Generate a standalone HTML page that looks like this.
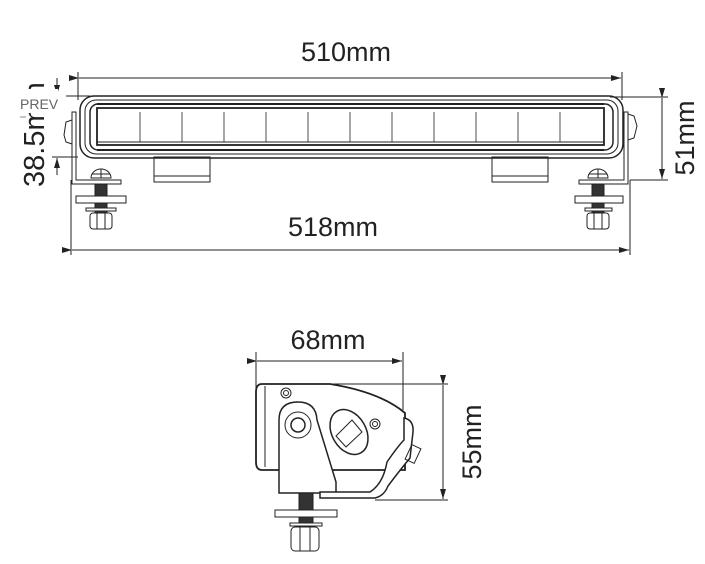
<!DOCTYPE html>
<html><head><style>html,body{margin:0;padding:0;background:#fff;}svg{display:block;}</style></head>
<body>
<svg width="705" height="564" viewBox="0 0 705 564" xmlns="http://www.w3.org/2000/svg" font-family="Liberation Sans, sans-serif">
<defs>
<marker id="a" markerWidth="10" markerHeight="6" refX="10" refY="3" orient="auto" markerUnits="userSpaceOnUse"><path d="M0,0 L10,3 L0,6 z" fill="#222"/></marker>
</defs>
<g stroke="#222" fill="none" stroke-width="1">
<line x1="78" y1="72" x2="78" y2="100"/><line x1="622" y1="72" x2="622" y2="100"/>
<line x1="79" y1="78" x2="621" y2="78" marker-end="url(#a)" marker-start="url(#a)"/>
<line x1="71" y1="180" x2="71" y2="255"/><line x1="630" y1="180" x2="630" y2="255"/>
<line x1="72" y1="250" x2="629" y2="250" marker-end="url(#a)" marker-start="url(#a)"/>
<line x1="610" y1="97" x2="668" y2="97"/><line x1="630" y1="180" x2="668" y2="180"/>
<line x1="662" y1="98" x2="662" y2="179" marker-end="url(#a)" marker-start="url(#a)"/>
<line x1="66" y1="96" x2="90" y2="96"/><line x1="52" y1="157" x2="78" y2="157"/>
<line x1="57" y1="78" x2="57" y2="95" marker-end="url(#a)"/>
<line x1="57" y1="175" x2="57" y2="158" marker-end="url(#a)"/>
<rect x="80" y="96" width="543" height="62" rx="14" stroke-width="1.5"/>
<rect x="85" y="100" width="533" height="54" rx="11"/>
<rect x="90" y="104" width="523" height="46" rx="8" stroke-width="1.5"/>
<line x1="97" y1="104" x2="604" y2="104" stroke-width="2"/>
<line x1="97" y1="150" x2="604" y2="150" stroke-width="2"/>
<rect x="97" y="108" width="507" height="37" stroke-width="1.8"/>
<line x1="97" y1="142" x2="604" y2="142"/>
<g stroke-width="0.8">
<line x1="140" y1="112" x2="140" y2="142"/><line x1="182" y1="112" x2="182" y2="142"/><line x1="224" y1="112" x2="224" y2="142"/><line x1="266" y1="112" x2="266" y2="142"/><line x1="308" y1="112" x2="308" y2="142"/><line x1="350" y1="112" x2="350" y2="142"/><line x1="392" y1="112" x2="392" y2="142"/><line x1="434" y1="112" x2="434" y2="142"/><line x1="476" y1="112" x2="476" y2="142"/><line x1="518" y1="112" x2="518" y2="142"/><line x1="560" y1="112" x2="560" y2="142"/>
</g>
<rect x="154" y="157" width="56" height="25"/><line x1="154" y1="176" x2="210" y2="176"/>
<rect x="492" y="157" width="56" height="25"/><line x1="492" y1="176" x2="548" y2="176"/>
<path d="M76,112 L76,180 L121,180 L121,184 L72,184 L72,112 Z"/>
<path d="M72,120 L66,122 L64,135 L66,142 L72,144"/>
<path d="M624,112 L624,180 L579,180 L579,184 L628,184 L628,112 Z"/>
<path d="M628,114 L634,116 L637,126 L634,138 L628,140"/>
</g>
<g stroke="#222" stroke-width="1" fill="#fff">
<path d="M91,178 A10,9 0 0 1 111,178 Z"/><line x1="101" y1="169" x2="101" y2="178"/><line x1="92" y1="174" x2="110" y2="174"/>
<rect x="95" y="184" width="12" height="30" fill="#333"/>
<rect x="76" y="196" width="50" height="7"/>
<rect x="86" y="208" width="30" height="3"/>
<rect x="90" y="213" width="22" height="16" rx="3"/><line x1="97" y1="213" x2="97" y2="229"/><line x1="105" y1="213" x2="105" y2="229"/>
<path d="M588,178 A10,9 0 0 1 608,178 Z"/><line x1="598" y1="169" x2="598" y2="178"/><line x1="589" y1="174" x2="607" y2="174"/>
<rect x="592" y="184" width="12" height="30" fill="#333"/>
<rect x="575" y="196" width="48" height="7"/>
<rect x="585" y="208" width="27" height="3"/>
<rect x="587" y="213" width="22" height="16" rx="3"/><line x1="594" y1="213" x2="594" y2="229"/><line x1="602" y1="213" x2="602" y2="229"/>
</g>
<g stroke="#222" fill="none" stroke-width="1">
<line x1="256" y1="352" x2="256" y2="392"/><line x1="403" y1="352" x2="403" y2="410"/>
<line x1="257" y1="361" x2="402" y2="361" marker-end="url(#a)" marker-start="url(#a)"/>
<line x1="330" y1="384" x2="448" y2="384"/><line x1="375" y1="500" x2="448" y2="500"/>
<line x1="443" y1="385" x2="443" y2="499" marker-end="url(#a)" marker-start="url(#a)"/>
<path d="M262,384 L330,384 Q380,392 405,413 L405,470 L262,470 Q256,470 256,462 L256,392 Q256,384 262,384 Z" stroke-width="1.8"/>
<line x1="265" y1="386" x2="265" y2="467"/>
<circle cx="286" cy="393" r="5"/><circle cx="286" cy="393" r="2.5"/>
<circle cx="375" cy="424" r="5"/><circle cx="375" cy="424" r="2.5"/>
<path d="M279,493 L279,420 Q279,402 298,402 Q316,402 317,420 L336,482 L336,493 Z" stroke-width="1.5" fill="#fff"/>
<circle cx="298" cy="425" r="13"/><circle cx="298" cy="425" r="7" stroke-width="1.5"/>
<ellipse cx="349" cy="432" rx="17" ry="24" transform="rotate(-30 349 432)" stroke-width="1.5"/>
<path d="M336,436 L352,420 L362,432 L346,447 Z"/>
<path d="M404,418 Q414,420 413,432 L410,458 Q400,470 388,486 Q384,496 375,498 L320,498 L320,492 L370,492 Q383,484 387,462 Q398,446 404,440 Z" stroke-width="1.5" fill="#fff"/>
<rect x="408" y="446" width="10" height="16" transform="rotate(25 413 454)"/>
</g>
<g stroke="#222" stroke-width="1" fill="#fff">
<rect x="299" y="493" width="14" height="44" fill="#333"/>
<rect x="275" y="510" width="62" height="7"/>
<rect x="290" y="523" width="32" height="3"/>
<rect x="291" y="527" width="28" height="24" rx="4"/><line x1="300" y1="527" x2="300" y2="551"/><line x1="310" y1="527" x2="310" y2="551"/>
</g>
<g fill="#222" font-size="27">
<text x="346" y="61" text-anchor="middle">510mm</text>
<text x="333" y="236" text-anchor="middle">518mm</text>
<text x="328" y="349" text-anchor="middle">68mm</text>
<text transform="translate(694,138) rotate(-90)" text-anchor="middle">51mm</text>
<text transform="translate(481,442) rotate(-90)" text-anchor="middle">55mm</text>
<text transform="translate(44,187) rotate(-90)" font-size="29">38.5mm</text>
</g>
<rect x="0" y="60" width="52" height="22" fill="#fff"/>
<rect x="14" y="89" width="44" height="24" fill="#fff"/>
<text x="20" y="109" font-size="14" fill="#666">PREV</text>
<line x1="20" y1="117" x2="26" y2="117" stroke="#888"/>
</svg>
</body></html>
